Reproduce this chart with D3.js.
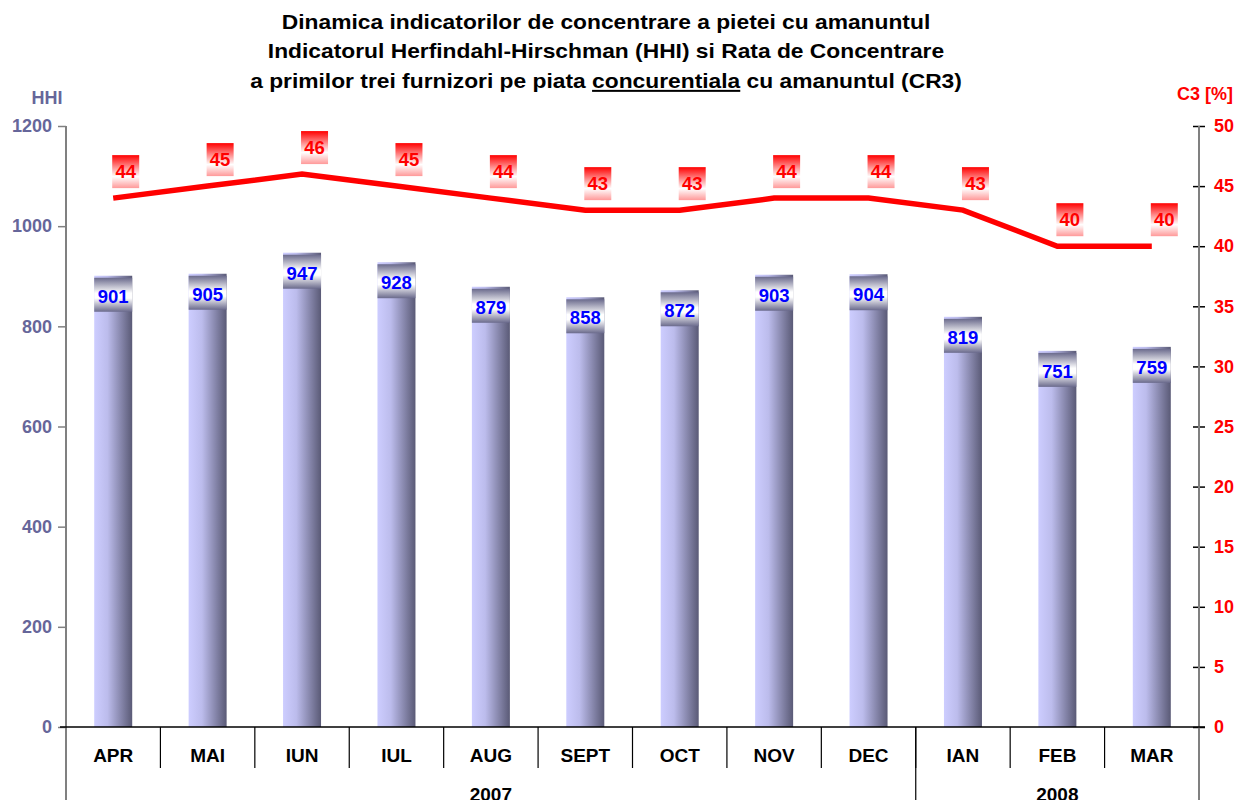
<!DOCTYPE html>
<html>
<head>
<meta charset="utf-8">
<script src="https://cdn.jsdelivr.net/npm/d3@7"></script>
<style>
  body { margin: 0; background: #fff; }
  text { font-family: Arial, "Liberation Sans", sans-serif; font-weight: bold; }
</style>
</head>
<body>
<svg id="chart" width="1238" height="800"></svg>
<script>
var months = ["APR", "MAI", "IUN", "IUL", "AUG", "SEPT", "OCT", "NOV", "DEC", "IAN", "FEB", "MAR"];
var years = [{ label: "2007", from: 0, to: 9 }, { label: "2008", from: 9, to: 12 }];
var hhi = [901, 905, 947, 928, 879, 858, 872, 903, 904, 819, 751, 759];
var cr3 = [44, 45, 46, 45, 44, 43, 43, 44, 44, 43, 40, 40];
var hhiTicks = [0, 200, 400, 600, 800, 1000, 1200];
var cr3Ticks = [0, 5, 10, 15, 20, 25, 30, 35, 40, 45, 50];

var svg = d3.select("#chart");
var plotL = 66, plotR = 1199, plotT = 126, plotB = 727;

var x = d3.scaleBand().domain(months).range([plotL, plotR]).padding(0);
var yL = d3.scaleLinear().domain([0, 1200]).range([plotB, plotT]);
var yR = d3.scaleLinear().domain([0, 50]).range([plotB, plotT]);
var barW = 38;

function cx(i) { return x(months[i]) + x.bandwidth() / 2; }

var defs = svg.append("defs");
var g1 = defs.append("linearGradient").attr("id", "barGrad").attr("x1", 0).attr("x2", 1).attr("y1", 0).attr("y2", 0);
g1.append("stop").attr("offset", "0").attr("stop-color", "#cdcdff");
g1.append("stop").attr("offset", "0.35").attr("stop-color", "#bcbcec");
g1.append("stop").attr("offset", "1").attr("stop-color", "#5a5a76");

var g2 = defs.append("linearGradient").attr("id", "boxGrad").attr("x1", 0).attr("x2", 0).attr("y1", 0).attr("y2", 1);
g2.append("stop").attr("offset", "0").attr("stop-color", "#6a6a8c");
g2.append("stop").attr("offset", "0.45").attr("stop-color", "#ffffff");
g2.append("stop").attr("offset", "0.6").attr("stop-color", "#ffffff");
g2.append("stop").attr("offset", "1").attr("stop-color", "#6a6a8c");

var g3 = defs.append("linearGradient").attr("id", "redGrad").attr("x1", 0).attr("x2", 0).attr("y1", 0).attr("y2", 1);
g3.append("stop").attr("offset", "0").attr("stop-color", "#ff0000");
g3.append("stop").attr("offset", "0.65").attr("stop-color", "#ffffff");
g3.append("stop").attr("offset", "1").attr("stop-color", "#ff9999");

// title (a bit wider than the font's natural width)
var title = svg.append("text").attr("text-anchor", "middle").style("font-size", "20px").attr("fill", "#000")
  .attr("transform", "translate(606,0) scale(1.14,1) translate(-606,0)");
title.append("tspan").attr("x", 606).attr("y", 29).text("Dinamica indicatorilor de concentrare a pietei cu amanuntul");
title.append("tspan").attr("x", 606).attr("y", 58.5).text("Indicatorul Herfindahl-Hirschman (HHI) si Rata de Concentrare");
var l3 = title.append("tspan").attr("x", 606).attr("y", 88);
l3.append("tspan").text("a primilor trei furnizori pe piata ");
l3.append("tspan").style("text-decoration", "underline").text("concurentiala");
l3.append("tspan").text(" cu amanuntul (CR3)");

// bars
svg.selectAll(".bar").data(hhi).enter().append("rect")
  .attr("x", function (d, i) { return cx(i) - barW / 2; })
  .attr("y", function (d) { return yL(d); })
  .attr("width", barW)
  .attr("height", function (d) { return plotB - yL(d); })
  .attr("fill", "url(#barGrad)");

svg.selectAll(".bbox").data(hhi).enter().append("rect")
  .attr("x", function (d, i) { return cx(i) - barW / 2; })
  .attr("y", function (d) { return yL(d) + 2; })
  .attr("width", barW)
  .attr("height", 34)
  .attr("fill", "url(#boxGrad)");

svg.selectAll(".blab").data(hhi).enter().append("text")
  .attr("x", function (d, i) { return cx(i); })
  .attr("y", function (d) { return yL(d) + 27; })
  .attr("text-anchor", "middle")
  .attr("fill", "#0000ff")
  .style("font-size", "18.5px")
  .text(function (d) { return d; });

// axes
var axL = svg.append("g").attr("transform", "translate(" + plotL + ",0)")
  .call(d3.axisLeft(yL).tickValues(hhiTicks).tickFormat(d3.format("d")).tickSize(8).tickPadding(6));
axL.select(".domain").remove();
axL.selectAll("line").attr("stroke", "#808080").attr("stroke-width", 1.5);
axL.selectAll("text").attr("fill", "#66669a").style("font-size", "18px").attr("font-family", null);
svg.append("line").attr("x1", plotL).attr("x2", plotL).attr("y1", plotT).attr("y2", 800).attr("stroke", "#808080").attr("stroke-width", 2);

var axR = svg.append("g").attr("transform", "translate(" + plotR + ",0)")
  .call(d3.axisRight(yR).tickValues(cr3Ticks).tickSize(6).tickPadding(9));
axR.select(".domain").remove();
axR.selectAll("line").attr("x1", -6).attr("stroke", "#000").attr("stroke-width", 1.5);
axR.selectAll("text").attr("fill", "#ff0000").style("font-size", "18px").attr("font-family", null);
svg.append("line").attr("x1", plotR).attr("x2", plotR).attr("y1", plotT).attr("y2", 800).attr("stroke", "#808080").attr("stroke-width", 2);

svg.append("text").attr("x", 47).attr("y", 104).attr("text-anchor", "middle").attr("fill", "#66669a").style("font-size", "18px").text("HHI");
svg.append("text").attr("x", 1205).attr("y", 100).attr("text-anchor", "middle").attr("fill", "#ff0000").style("font-size", "18px").text("C3 [%]");

// category axis
svg.append("line").attr("x1", plotL - 6).attr("x2", plotR + 6).attr("y1", plotB).attr("y2", plotB).attr("stroke", "#000").attr("stroke-width", 1.5);
svg.selectAll(".sep").data(months.slice(1)).enter().append("line")
  .attr("x1", function (d) { return x(d); }).attr("x2", function (d) { return x(d); })
  .attr("y1", plotB).attr("y2", 768).attr("stroke", "#000").attr("stroke-width", 1.2);
svg.selectAll(".ysep").data(years.slice(1)).enter().append("line")
  .attr("x1", function (d) { return x(months[d.from]); }).attr("x2", function (d) { return x(months[d.from]); })
  .attr("y1", plotB).attr("y2", 800).attr("stroke", "#000").attr("stroke-width", 1.2);
svg.selectAll(".cat").data(months).enter().append("text")
  .attr("x", function (d, i) { return cx(i); })
  .attr("y", 762).attr("text-anchor", "middle").attr("fill", "#000").style("font-size", "19px")
  .text(function (d) { return d; });
svg.selectAll(".yr").data(years).enter().append("text")
  .attr("x", function (d) { return (x(months[d.from]) + (d.to < months.length ? x(months[d.to]) : plotR)) / 2; })
  .attr("y", 801).attr("text-anchor", "middle").attr("fill", "#000").style("font-size", "19px")
  .text(function (d) { return d.label; });

// CR3 line
var line = d3.line()
  .x(function (d, i) { return cx(i); })
  .y(function (d) { return yR(d); });
svg.append("path").datum(cr3).attr("d", line).attr("fill", "none").attr("stroke", "#ff0000").attr("stroke-width", 5.5);

svg.selectAll(".rbox").data(cr3).enter().append("rect")
  .attr("x", function (d, i) { return cx(i) - 1; })
  .attr("y", function (d) { return yR(d) - 43; })
  .attr("width", 27).attr("height", 33)
  .attr("fill", "url(#redGrad)");
svg.selectAll(".rlab").data(cr3).enter().append("text")
  .attr("x", function (d, i) { return cx(i) + 12.5; })
  .attr("y", function (d) { return yR(d) - 20; })
  .attr("text-anchor", "middle").attr("fill", "#ff0000").style("font-size", "18.5px")
  .text(function (d) { return d; });
</script>
</body>
</html>
